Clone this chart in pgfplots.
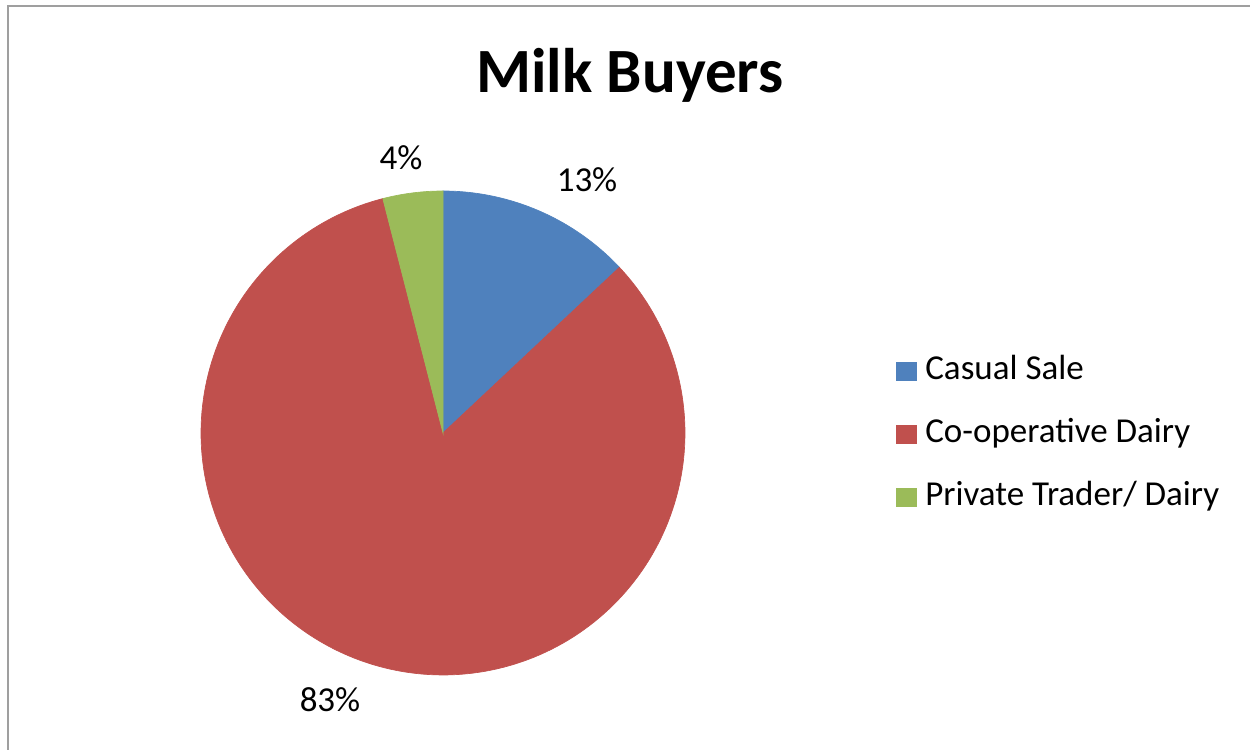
\documentclass[border=0pt]{standalone}
\usepackage{pgfplots}
\pgfplotsset{compat=1.18}
\usepackage{fontspec}
\setmainfont{Carlito}
\definecolor{cblue}{HTML}{4F81BD}
\definecolor{cred}{HTML}{C0504D}
\definecolor{cgreen}{HTML}{9BBB59}
% data (percent)
\def\vCasual{13}
\def\vCoop{83}
\def\vPriv{4}
\begin{document}
\begin{tikzpicture}
\pgfmathsetmacro{\aA}{90}
\pgfmathsetmacro{\aB}{90-3.6*\vCasual}
\pgfmathsetmacro{\aC}{\aB-3.6*\vCoop}
\pgfmathsetmacro{\aD}{\aC-3.6*\vPriv}
\begin{axis}[name=ax, scale only axis, width=750pt, height=450pt,
  xmin=0, xmax=1250, ymin=0, ymax=750, hide axis, clip=false,
  legend image code/.code={\fill[#1] (0pt,-5.4pt) rectangle (11.5pt,5.4pt); \path (15pt,0pt);},
  legend style={at={(axis cs:896,316)}, anchor=west, draw=none, fill=none,
    inner sep=0pt, row sep=15.8pt, legend cell align=left,
    font=\fontsize{21}{24}\selectfont,
    nodes={text height=14pt, text depth=4pt, inner sep=2pt}},
]
\draw[gray!75, line width=1.2pt] (8,-20) rectangle (1270,743.5);
\addplot[fill=cblue, draw=cblue, domain=\aB:\aA, samples=80] ({443+242*cos(x)},{317+242*sin(x)}) -- (443,317) -- cycle;
\addlegendentry{Casual Sale}
\addplot[fill=cred, draw=cred, domain=\aC:\aB, samples=200] ({443+242*cos(x)},{317+242*sin(x)}) -- (443,317) -- cycle;
\addlegendentry{Co-operative Dairy}
\addplot[fill=cgreen, draw=cgreen, domain=\aD:\aC, samples=30] ({443+242*cos(x)},{317+242*sin(x)}) -- (443,317) -- cycle;
\addlegendentry{Private Trader/ Dairy}
\node[anchor=base, font=\fontsize{37.8}{45}\bfseries\selectfont] at (630,657) {Milk Buyers};
\node[font=\fontsize{21}{24}\selectfont] at (587,570) {13\%};
\node[font=\fontsize{21}{24}\selectfont] at (401,592) {4\%};
\node[font=\fontsize{21}{24}\selectfont] at (330,50) {83\%};
\end{axis}
\pgfresetboundingbox
\path (ax.south west) rectangle (ax.north east);
\end{tikzpicture}
\end{document}
